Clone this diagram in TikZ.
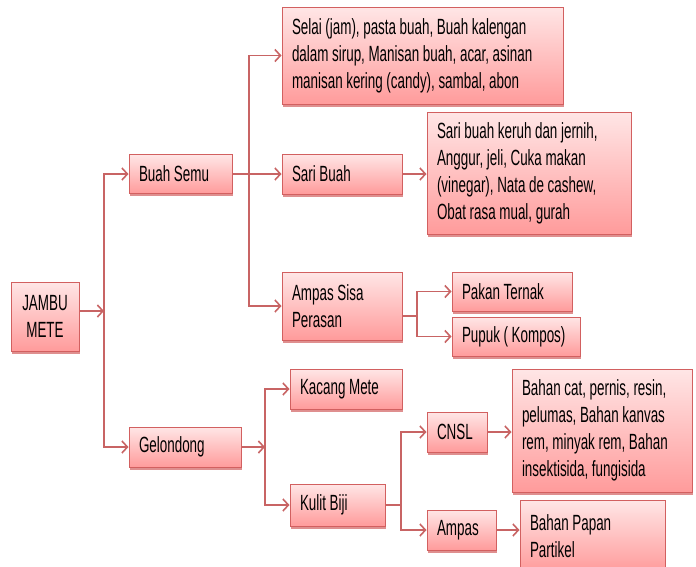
\documentclass[tikz,border=0pt]{standalone}
\usepackage{fontspec}
\setmainfont{Liberation Sans}[FakeStretch=0.61]
\usetikzlibrary{arrows.meta,shadows}
\definecolor{boxtop}{RGB}{255,230,230}
\definecolor{boxbottom}{RGB}{255,155,155}
\definecolor{boxedge}{RGB}{210,96,96}
\definecolor{linkred}{RGB}{200,100,100}

\begin{document}
\begin{tikzpicture}[x=1pt, y=-1pt, font={\fontsize{22}{27}\selectfont\spaceskip=3.6pt plus 1pt minus 0.5pt\hyphenpenalty=10000},
	box/.style={draw=boxedge, line width=1pt, top color=boxtop, bottom color=boxbottom, inner xsep=10pt, inner ysep=4pt, align=flush left, drop shadow={shadow xshift=1pt, shadow yshift=-2.5pt, fill=boxedge, opacity=0.7}},
	link/.style={draw=linkred, line width=1.6pt},
	arr/.style={link, -{Straight Barb[length=5.5pt, width=12pt]}}]
	
	\useasboundingbox (0,0) rectangle (696,566);
	\clip (0,0) rectangle (696,566);
	
	% Akar
	\node[box, align=flush center, text width=48pt, minimum height=69pt] (jm) at (45,316.5) {JAMBU\\METE};
	
	% Cabang utama
	\node[box, text width=83pt, minimum height=39pt] (bs) at (180.5,174) {Buah Semu};
	\node[box, text width=92pt, minimum height=40pt] (gd) at (185,447) {Gelondong};
	
	% Buah semu
	\node[box, text width=261pt, minimum height=97pt] (selai) at (422.5,55.5) {Selai (jam), pasta buah, Buah kalengan\\dalam sirup, Manisan buah, acar, asinan\\manisan kering (candy), sambal, abon};
	\node[box, text width=100pt, minimum height=40pt] (sb) at (342,174) {Sari Buah};
	\node[box, text width=184pt, minimum height=122pt] (sk) at (529,173) {Sari buah keruh dan jernih,\\Anggur, jeli, Cuka makan\\(vinegar), Nata de cashew,\\Obat rasa mual, gurah};
	\node[box, text width=100pt, minimum height=68pt] (asp) at (342,306) {Ampas Sisa\\Perasan};
	\node[box, text width=100pt, minimum height=39pt] (pakan) at (512,291.5) {Pakan Ternak};
	\node[box, text width=108pt, minimum height=39pt] (pupuk) at (516,336.5) {Pupuk ( Kompos)};
	
	% Gelondong
	\node[box, text width=92pt, minimum height=40pt] (km) at (346,389) {Kacang Mete};
	\node[box, text width=75pt, minimum height=42pt] (kb) at (337.5,505) {Kulit Biji};
	\node[box, text width=40pt, minimum height=40pt] (cnsl) at (457,432) {CNSL};
	\node[box, text width=49pt, minimum height=40pt] (amp) at (461.5,530) {Ampas};
	\node[box, text width=160pt, minimum height=123pt] (bc) at (602,430.5) {Bahan cat, pernis, resin,\\pelumas, Bahan kanvas\\rem, minyak rem, Bahan\\insektisida, fungisida};
	\node[box, text width=125pt, minimum height=72pt] (bp) at (592.5,536) {Bahan Papan\\Partikel};
	
	% Garis akar
	\coordinate (j1) at (104,311);
	\draw[arr] (jm.east |- j1) -- (j1);
	\draw[arr] (j1) |- (bs);
	\draw[arr] (j1) |- (gd);
	
	% Garis buah semu
	\coordinate (b1) at (249,174);
	\draw[link] (bs) -- (b1);
	\draw[arr] (b1) |- (selai);
	\draw[arr] (b1) -- (sb);
	\draw[arr] (b1) |- (asp);
	\draw[arr] (sb.east) -- (sk.west |- sb.east);
	
	\coordinate (a1) at (417,316);
	\draw[link] (asp.east |- a1) -- (a1);
	\draw[arr] (a1) |- (pakan);
	\draw[arr] (a1) |- (pupuk);
	
	% Garis gelondong
	\coordinate (g1) at (265,447);
	\draw[arr] (gd) -- (g1);
	\draw[arr] (g1) |- (km);
	\draw[arr] (g1) |- (kb);
	
	\coordinate (k1) at (401,505);
	\draw[link] (kb) -- (k1);
	\draw[arr] (k1) |- (cnsl);
	\draw[arr] (k1) |- (amp);
	\draw[arr] (cnsl.east) -- (bc.west |- cnsl.east);
	\draw[arr] (amp.east) -- (bp.west |- amp.east);
	
\end{tikzpicture}
\end{document}
